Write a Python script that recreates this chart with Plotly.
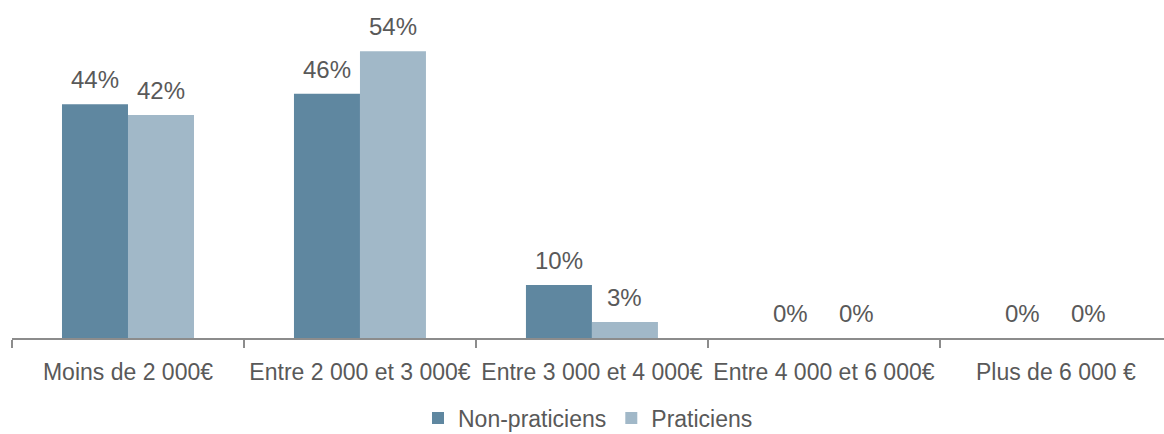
import plotly.graph_objects as go

categories = ["Moins de 2 000€", "Entre 2 000 et 3 000€", "Entre 3 000 et 4 000€",
              "Entre 4 000 et 6 000€", "Plus de 6 000 €"]
non_praticiens = [44, 46, 10, 0, 0]
praticiens = [42, 54, 3, 0, 0]
series_names = ["Non-praticiens", "Praticiens"]
series_colors = ["#5f87a0", "#a1b8c8"]

FONT = "Liberation Sans, Arial, sans-serif"
TEXT_COLOR = "#595959"
AXIS_COLOR = "#8c8c8c"
BARGAP = 0.431

fig = go.Figure()
for name, vals, col in zip(series_names, [non_praticiens, praticiens], series_colors):
    fig.add_trace(go.Bar(x=categories, y=vals, name=name,
                         marker=dict(color=col, line=dict(width=0))))

# value labels above each bar, centred on its bar within the group
bar_half = 0.5 * (1 - BARGAP) / 2
for offs, vals in zip([-bar_half, bar_half], [non_praticiens, praticiens]):
    for i, v in enumerate(vals):
        fig.add_annotation(x=i + offs, y=v, xref="x", yref="y",
                           text=f"{v}%", showarrow=False, yanchor="bottom",
                           yshift=9, font=dict(family=FONT, size=24, color=TEXT_COLOR))

fig.update_layout(
    width=1164, height=434,
    margin=dict(l=12, r=0, t=30, b=96, autoexpand=False),
    paper_bgcolor="white", plot_bgcolor="white",
    barmode="group", bargap=BARGAP, bargroupgap=0,
    font=dict(family=FONT, size=23, color=TEXT_COLOR),
    showlegend=True,
    legend=dict(orientation="h", x=0.5, xanchor="center", y=-0.19, yanchor="top",
                font=dict(family=FONT, size=23, color=TEXT_COLOR),
                traceorder="normal", itemwidth=30),
)
fig.update_xaxes(type="category", range=[-0.5, 4.466], showline=True,
                 linecolor=AXIS_COLOR, linewidth=2, ticks="outside",
                 tickson="boundaries", ticklen=8, tickwidth=2, tickcolor=AXIS_COLOR,
                 tickangle=0, automargin=False, showgrid=False, ticklabelstandoff=12,
                 tickfont=dict(family=FONT, size=23, color=TEXT_COLOR))
fig.update_yaxes(range=[0, 58], visible=False, showgrid=False, zeroline=False)

fig.write_html("out.html")
